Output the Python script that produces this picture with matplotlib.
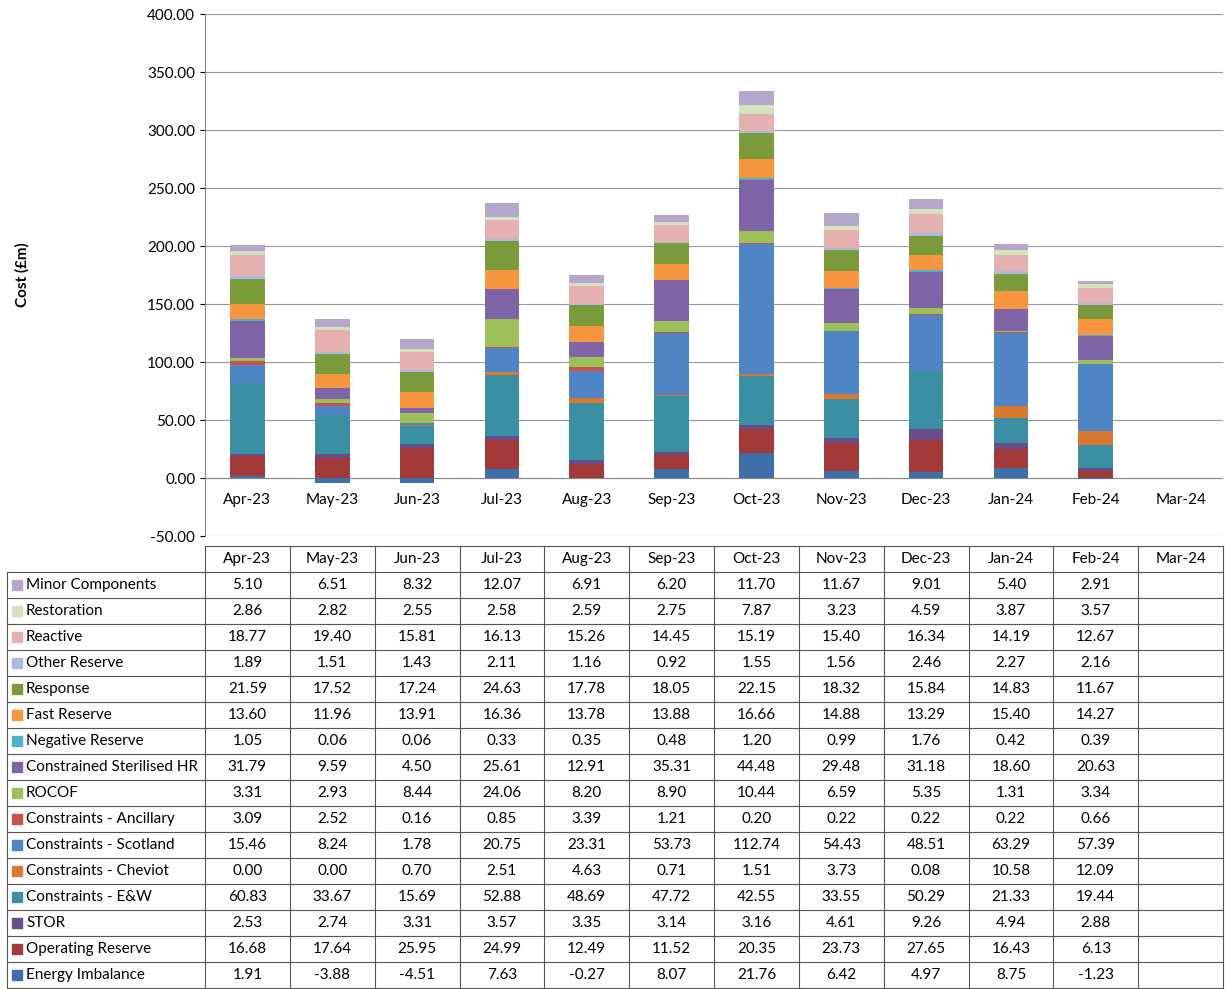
import numpy as np
import matplotlib.pyplot as plt
from matplotlib.patches import Rectangle

plt.rcParams['font.family'] = ['Lato', 'DejaVu Sans']

months = ["Apr-23", "May-23", "Jun-23", "Jul-23", "Aug-23", "Sep-23", "Oct-23",
          "Nov-23", "Dec-23", "Jan-24", "Feb-24", "Mar-24"]

# --- data (bottom of stack first), Mar-24 empty ---
energy_imbalance = [1.91, -3.88, -4.51, 7.63, -0.27, 8.07, 21.76, 6.42, 4.97, 8.75, -1.23]
operating_reserve = [16.68, 17.64, 25.95, 24.99, 12.49, 11.52, 20.35, 23.73, 27.65, 16.43, 6.13]
stor = [2.53, 2.74, 3.31, 3.57, 3.35, 3.14, 3.16, 4.61, 9.26, 4.94, 2.88]
constraints_ew = [60.83, 33.67, 15.69, 52.88, 48.69, 47.72, 42.55, 33.55, 50.29, 21.33, 19.44]
constraints_cheviot = [0.00, 0.00, 0.70, 2.51, 4.63, 0.71, 1.51, 3.73, 0.08, 10.58, 12.09]
constraints_scotland = [15.46, 8.24, 1.78, 20.75, 23.31, 53.73, 112.74, 54.43, 48.51, 63.29, 57.39]
constraints_ancillary = [3.09, 2.52, 0.16, 0.85, 3.39, 1.21, 0.20, 0.22, 0.22, 0.22, 0.66]
rocof = [3.31, 2.93, 8.44, 24.06, 8.20, 8.90, 10.44, 6.59, 5.35, 1.31, 3.34]
sterilised_hr = [31.79, 9.59, 4.50, 25.61, 12.91, 35.31, 44.48, 29.48, 31.18, 18.60, 20.63]
negative_reserve = [1.05, 0.06, 0.06, 0.33, 0.35, 0.48, 1.20, 0.99, 1.76, 0.42, 0.39]
fast_reserve = [13.60, 11.96, 13.91, 16.36, 13.78, 13.88, 16.66, 14.88, 13.29, 15.40, 14.27]
response = [21.59, 17.52, 17.24, 24.63, 17.78, 18.05, 22.15, 18.32, 15.84, 14.83, 11.67]
other_reserve = [1.89, 1.51, 1.43, 2.11, 1.16, 0.92, 1.55, 1.56, 2.46, 2.27, 2.16]
reactive = [18.77, 19.40, 15.81, 16.13, 15.26, 14.45, 15.19, 15.40, 16.34, 14.19, 12.67]
restoration = [2.86, 2.82, 2.55, 2.58, 2.59, 2.75, 7.87, 3.23, 4.59, 3.87, 3.57]
minor_components = [5.10, 6.51, 8.32, 12.07, 6.91, 6.20, 11.70, 11.67, 9.01, 5.40, 2.91]

series = [
    ("Energy Imbalance", energy_imbalance, "#3F6FA8"),
    ("Operating Reserve", operating_reserve, "#A33A3A"),
    ("STOR", stor, "#6A4C8A"),
    ("Constraints - E&W", constraints_ew, "#3A8FA3"),
    ("Constraints - Cheviot", constraints_cheviot, "#D9782F"),
    ("Constraints - Scotland", constraints_scotland, "#4F85C4"),
    ("Constraints - Ancillary", constraints_ancillary, "#C9504D"),
    ("ROCOF", rocof, "#9DC15A"),
    ("Constrained Sterilised HR", sterilised_hr, "#8064A8"),
    ("Negative Reserve", negative_reserve, "#4BB0C8"),
    ("Fast Reserve", fast_reserve, "#F7963F"),
    ("Response", response, "#7A9A3C"),
    ("Other Reserve", other_reserve, "#A9BCE0"),
    ("Reactive", reactive, "#E5B1B0"),
    ("Restoration", restoration, "#D4E3BC"),
    ("Minor Components", minor_components, "#B5A7CC"),
]

W, H = 1225, 989
fig = plt.figure(figsize=(W / 100, H / 100), dpi=100)
left, right, top, bottom = 205, 1223, 14, 536
ax = fig.add_axes([left / W, 1 - bottom / H, (right - left) / W, (bottom - top) / H])

n = len(energy_imbalance)
x = np.arange(len(months))
pos_base = np.zeros(n)
neg_base = np.zeros(n)
for name, vals, col in series:
    v = np.array(vals)
    base = np.where(v >= 0, pos_base, neg_base)
    ax.bar(x[:n], v, bottom=base, width=0.41, color=col, edgecolor="none", zorder=3)
    pos_base += np.where(v >= 0, v, 0)
    neg_base += np.where(v < 0, v, 0)

ax.set_xlim(-0.5, len(months) - 0.5)
ax.set_ylim(-50, 400)
ax.set_yticks(np.arange(-50, 401, 50))
ax.set_yticklabels([f"{t:.2f}" for t in np.arange(-50, 401, 50)], fontsize=11)
ax.grid(axis="y", color="#999999", linewidth=0.8, zorder=0)
ax.set_xticks([])
for s in ["top", "right", "bottom"]:
    ax.spines[s].set_visible(False)
ax.spines["left"].set_color("#888888")
ax.axhline(0, color="#888888", linewidth=0.8, zorder=2)
for i, m in enumerate(months):
    ax.text(i, -19, m, ha="center", va="center", fontsize=11)
fig.text(22 / W, 1 - 275 / H, "Cost (£m)", rotation=90, ha="center", va="center",
         fontsize=11, fontweight="bold")

# --- data table ---
tab = fig.add_axes([0, 0, 1, 1])
tab.set_xlim(0, W)
tab.set_ylim(H, 0)
tab.axis("off")
t_top, t_bot = 546, 988
rh = (t_bot - t_top) / 17
cw = (right - left) / 12
lc = "#555555"
tab.plot([left, right], [t_top, t_top], color=lc, lw=0.8)
for i, m in enumerate(months):
    tab.text(left + (i + 0.5) * cw, t_top + rh / 2, m, ha="center", va="center", fontsize=11)
for j in range(1, 18):
    tab.plot([7, right], [t_top + j * rh] * 2, color=lc, lw=0.8)
for i in range(13):
    tab.plot([left + i * cw] * 2, [t_top, t_bot], color=lc, lw=0.8)
tab.plot([7, 7], [t_top + rh, t_bot], color=lc, lw=0.8)
for r, (name, vals, col) in enumerate(reversed(series)):
    yc = t_top + (r + 1.5) * rh
    tab.add_patch(Rectangle((12, yc - 5), 10, 10, color=col))
    tab.text(26, yc, name, ha="left", va="center", fontsize=11)
    for i, v in enumerate(vals):
        tab.text(left + (i + 0.5) * cw, yc, f"{v:.2f}", ha="center", va="center", fontsize=11)

fig.savefig("out.png", dpi=100)
